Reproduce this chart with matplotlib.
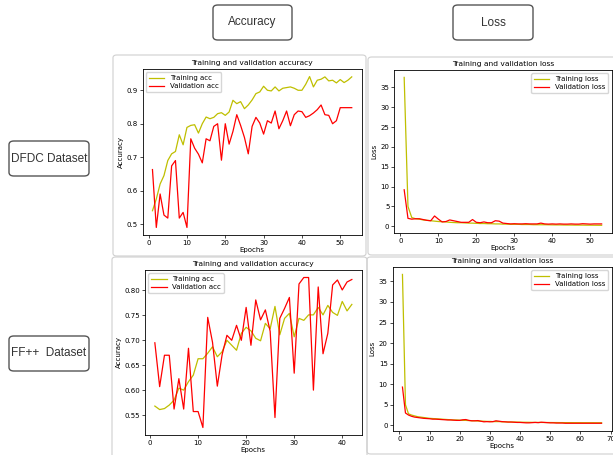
import matplotlib
matplotlib.use("Agg")
import matplotlib.pyplot as plt
import numpy as np
from matplotlib.patches import FancyBboxPatch

# DFDC dataset
dfdc_train_acc = [0.54, 0.575, 0.62, 0.645, 0.69, 0.71, 0.717, 0.767, 0.737, 0.789,
                  0.795, 0.797, 0.772, 0.80, 0.82, 0.815, 0.819, 0.83, 0.833, 0.825,
                  0.835, 0.87, 0.86, 0.866, 0.845, 0.856, 0.871, 0.89, 0.895, 0.912,
                  0.90, 0.898, 0.91, 0.898, 0.906, 0.908, 0.91, 0.906, 0.90, 0.90,
                  0.918, 0.941, 0.91, 0.93, 0.933, 0.94, 0.928, 0.93, 0.922, 0.932,
                  0.923, 0.93, 0.94]
dfdc_val_acc = [0.663, 0.49, 0.59, 0.527, 0.518, 0.674, 0.69, 0.518, 0.535, 0.49,
                0.755, 0.727, 0.709, 0.683, 0.755, 0.749, 0.792, 0.80, 0.691, 0.80,
                0.739, 0.777, 0.827, 0.795, 0.759, 0.71, 0.792, 0.819, 0.802, 0.769,
                0.809, 0.802, 0.838, 0.785, 0.809, 0.838, 0.794, 0.827, 0.838, 0.836,
                0.819, 0.824, 0.832, 0.842, 0.856, 0.827, 0.825, 0.80, 0.809, 0.848,
                0.848, 0.848, 0.848]
dfdc_train_loss = [37.5, 5.0, 2.2, 1.9, 1.8, 1.6, 1.5, 1.4, 1.3, 1.2,
                   1.15, 1.1, 1.0, 0.95, 0.9, 0.9, 0.85, 0.8, 0.8, 0.75,
                   0.7, 0.7, 0.65, 0.65, 0.6, 0.6, 0.55, 0.55, 0.5, 0.5,
                   0.5, 0.45, 0.45, 0.45, 0.4, 0.4, 0.4, 0.4, 0.38, 0.36,
                   0.35, 0.35, 0.33, 0.32, 0.32, 0.3, 0.3, 0.3, 0.28, 0.28,
                   0.27, 0.26, 0.25]
dfdc_val_loss = [9.2, 2.0, 1.8, 1.9, 1.9, 1.7, 1.5, 1.4, 2.6, 1.8,
                 1.1, 1.2, 1.6, 1.4, 1.2, 1.0, 1.0, 1.0, 1.7, 1.0,
                 0.9, 1.1, 0.9, 0.9, 1.4, 1.3, 0.8, 0.7, 0.6, 0.65,
                 0.6, 0.6, 0.65, 0.6, 0.6, 0.6, 0.8, 0.6, 0.55, 0.6,
                 0.55, 0.6, 0.55, 0.55, 0.6, 0.55, 0.55, 0.65, 0.6, 0.55,
                 0.6, 0.6, 0.6]

# FF++ dataset
ff_train_acc = [0.568, 0.561, 0.563, 0.57, 0.58, 0.604, 0.60, 0.617, 0.63, 0.663,
                0.663, 0.674, 0.687, 0.667, 0.677, 0.70, 0.69, 0.68, 0.714, 0.726,
                0.719, 0.704, 0.699, 0.734, 0.723, 0.768, 0.711, 0.744, 0.754, 0.707,
                0.744, 0.74, 0.751, 0.751, 0.766, 0.751, 0.77, 0.756, 0.75, 0.778,
                0.759, 0.772]
ff_val_acc = [0.695, 0.607, 0.67, 0.67, 0.562, 0.623, 0.562, 0.684, 0.557, 0.557,
              0.525, 0.746, 0.696, 0.608, 0.671, 0.71, 0.70, 0.73, 0.70, 0.766,
              0.69, 0.781, 0.741, 0.761, 0.718, 0.545, 0.744, 0.764, 0.786, 0.634,
              0.813, 0.826, 0.826, 0.60, 0.807, 0.673, 0.714, 0.811, 0.821, 0.801,
              0.817, 0.822]
ff_train_loss = [36.7, 5.0, 2.8, 2.5, 2.3, 2.1, 2.0, 1.9, 1.8, 1.7,
                 1.65, 1.6, 1.55, 1.5, 1.45, 1.4, 1.35, 1.3, 1.3, 1.25,
                 1.2, 1.2, 1.15, 1.1, 1.1, 1.05, 1.0, 1.0, 0.95, 0.95,
                 0.9, 0.9, 0.9, 0.85, 0.85, 0.8, 0.8, 0.8, 0.78, 0.76,
                 0.75, 0.74, 0.73, 0.72, 0.71, 0.7, 0.7, 0.69, 0.68, 0.68,
                 0.67, 0.67, 0.66, 0.66, 0.65, 0.65, 0.65, 0.64, 0.64, 0.64,
                 0.63, 0.63, 0.63, 0.63, 0.62, 0.62, 0.62]
ff_val_loss = [9.3, 3.0, 2.5, 2.2, 2.0, 1.9, 1.8, 1.7, 1.65, 1.6,
               1.5, 1.5, 1.45, 1.4, 1.35, 1.3, 1.3, 1.25, 1.2, 1.2,
               1.35, 1.4, 1.2, 1.1, 1.1, 1.15, 1.0, 0.85, 0.9, 0.85,
               0.9, 1.1, 1.0, 0.9, 0.85, 0.8, 0.8, 0.75, 0.7, 0.7,
               0.65, 0.6, 0.6, 0.65, 0.7, 0.65, 0.75, 0.7, 0.65, 0.6,
               0.6, 0.55, 0.55, 0.55, 0.5, 0.5, 0.5, 0.5, 0.5, 0.5,
               0.5, 0.5, 0.5, 0.5, 0.5, 0.5, 0.5]

W, H = 613, 455
fig = plt.figure(figsize=(W / 100, H / 100), dpi=100)
plt.rcParams['font.family'] = 'DejaVu Sans'


def px_axes(l, t, r, b):
    return fig.add_axes([l / W, 1 - b / H, (r - l) / W, (b - t) / H])


def panel_frame(l, t, r, b):
    p = FancyBboxPatch((l / W, 1 - b / H), (r - l) / W, (b - t) / H,
                       boxstyle="round,pad=0,rounding_size=0.006",
                       transform=fig.transFigure, fill=False,
                       edgecolor='#d0d0d0', linewidth=0.8)
    fig.add_artist(p)


def label_box(l, t, r, b, text):
    p = FancyBboxPatch((l / W, 1 - b / H), (r - l) / W, (b - t) / H,
                       boxstyle="round,pad=0,rounding_size=0.008",
                       transform=fig.transFigure, fill=False,
                       edgecolor='#555555', linewidth=1.0)
    fig.add_artist(p)
    fig.text((l + r) / 2 / W, 1 - (t + b) / 2 / H, text, ha='center', va='center',
             fontsize=8.5, color='#333333', family='Liberation Sans')


def draw(ax, train, val, title, ylabel, tl, vl, loc):
    ep = np.arange(1, len(train) + 1)
    ax.plot(ep, train, 'y', linewidth=0.9, label=tl)
    ax.plot(ep, val, 'r', linewidth=0.9, label=vl)
    ax.set_title(title, fontsize=5.4, pad=3)
    ax.set_xlabel('Epochs', fontsize=5, labelpad=1)
    ax.set_ylabel(ylabel, fontsize=5, labelpad=2)
    ax.tick_params(labelsize=5, length=2, width=0.5, pad=1.5)
    for s in ax.spines.values():
        s.set_linewidth(0.6)
    ax.legend(loc=loc, fontsize=5, handlelength=2.2, borderpad=0.4,
              labelspacing=0.3, framealpha=0.8)


panel_frame(113, 55, 366, 256)
panel_frame(368, 57, 640, 255)
panel_frame(112, 257, 367, 470)
panel_frame(367, 257, 640, 454)

ax1 = px_axes(142.5, 69, 361.7, 235)
draw(ax1, dfdc_train_acc, dfdc_val_acc, 'Training and validation accuracy',
     'Accuracy', 'Training acc', 'Validation acc', 'upper left')
ax1.set_yticks([0.5, 0.6, 0.7, 0.8, 0.9])

ax2 = px_axes(394.3, 70, 611.5, 232.7)
draw(ax2, dfdc_train_loss, dfdc_val_loss, 'Training and validation loss',
     'Loss', 'Training loss', 'Validation loss', 'upper right')

ax3 = px_axes(145, 270, 361.7, 435)
draw(ax3, ff_train_acc, ff_val_acc, 'Training and validation accuracy',
     'Accuracy', 'Training acc', 'Validation acc', 'upper left')

ax4 = px_axes(392.5, 267, 611.5, 430.7)
draw(ax4, ff_train_loss, ff_val_loss, 'Training and validation loss',
     'Loss', 'Training loss', 'Validation loss', 'upper right')

label_box(213, 5, 292, 40, 'Accuracy')
label_box(453, 5, 533, 40, 'Loss')
label_box(9, 141, 89, 176, 'DFDC Dataset')
label_box(9, 336, 89, 371, 'FF++  Dataset')

fig.savefig('out.png', dpi=100)
